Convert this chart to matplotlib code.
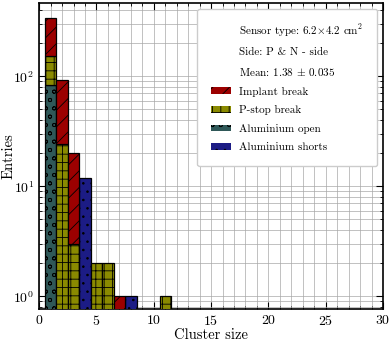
import matplotlib
matplotlib.use("Agg")
import matplotlib.pyplot as plt
import numpy as np
from matplotlib.patches import Patch
from matplotlib.ticker import MultipleLocator, LogLocator, FuncFormatter, NullFormatter

plt.rcParams["font.family"] = "serif"
plt.rcParams["font.serif"] = ["cmr10"]
plt.rcParams["mathtext.fontset"] = "cm"
plt.rcParams["axes.formatter.use_mathtext"] = True
plt.rcParams["hatch.linewidth"] = 0.6

# Cluster size bins (centres)
cluster_size = np.arange(1, 31)

# Counts per category (stacked)
aluminium_shorts = np.zeros(30)
aluminium_shorts[[3, 7]] = [12, 1]
aluminium_open = np.zeros(30)
aluminium_open[0] = 84
pstop_break = np.zeros(30)
pstop_break[[0, 1, 2, 4, 5, 10]] = [69, 24, 3, 2, 2, 1]
implant_break = np.zeros(30)
implant_break[[0, 1, 2, 6]] = [189, 68, 17, 1]

series = [
    ("Aluminium shorts", aluminium_shorts, "#1c1c85", ".."),
    ("Aluminium open", aluminium_open, "#2f5858", "oo"),
    ("P-stop break", pstop_break, "#8a8a00", "++"),
    ("Implant break", implant_break, "#9c0000", "//"),
]

fig = plt.figure(figsize=(3.92, 3.43), dpi=100)
ax = fig.add_axes([0.1, 0.098, 0.877, 0.892])
ax.set_yscale("log")

bottom = np.zeros(30)
handles = {}
for label, counts, color, hatch in series:
    mask = counts > 0
    ax.bar(cluster_size[mask], counts[mask], width=1.0, bottom=bottom[mask],
           color=color, edgecolor="black", linewidth=0.9, hatch=hatch, zorder=3)
    handles[label] = Patch(facecolor=color, edgecolor="black", linewidth=0, hatch=hatch)
    bottom = bottom + counts

ax.set_xlim(0, 30)
ax.set_ylim(0.76, 460)

ax.xaxis.set_major_locator(MultipleLocator(5))
ax.xaxis.set_minor_locator(MultipleLocator(1))
ax.yaxis.set_major_locator(LogLocator(base=10))
ax.yaxis.set_minor_locator(LogLocator(base=10, subs=np.arange(2, 10)))
ax.yaxis.set_minor_formatter(NullFormatter())
ax.xaxis.set_major_formatter(FuncFormatter(lambda v, p: r"$\mathbf{%d}$" % v))
ax.yaxis.set_major_formatter(FuncFormatter(lambda v, p: r"$\mathbf{10^{%d}}$" % round(np.log10(v))))
ax.tick_params(which="both", direction="in", top=True, right=True, labelsize=10)
ax.tick_params(which="major", length=5)
ax.tick_params(which="minor", length=2.5)
ax.grid(which="both", color="#a8a8a8", linewidth=0.5, zorder=0)
for s in ax.spines.values():
    s.set_linewidth(1.2)

ax.set_xlabel("Cluster size", fontsize=10.5, labelpad=0)
ax.set_ylabel("Entries", fontsize=10.5)
ax.yaxis.set_label_coords(-0.07, 0.5)

blank = Patch(visible=False)
leg_handles = [blank, blank, blank,
               handles["Implant break"], handles["P-stop break"],
               handles["Aluminium open"], handles["Aluminium shorts"]]
leg_labels = [r"Sensor type: 6.2$\times$4.2 cm$^\mathbf{2}$",
              "Side: P & N - side",
              r"Mean: $\mathbf{1.38}$ $\mathbf{\pm}$ $\mathbf{0.035}$",
              "Implant break", "P-stop break", "Aluminium open", "Aluminium shorts"]
leg = ax.legend(leg_handles, leg_labels, loc="upper right", fontsize=8,
                labelspacing=0.78, handlelength=1.8, handleheight=0.55,
                handletextpad=0.7, borderpad=1.25, borderaxespad=0, framealpha=1.0,
                edgecolor="#cccccc", fancybox=True, bbox_to_anchor=(0.983, 0.983))
leg.set_zorder(5)

fig.savefig("out.png", dpi=100)
